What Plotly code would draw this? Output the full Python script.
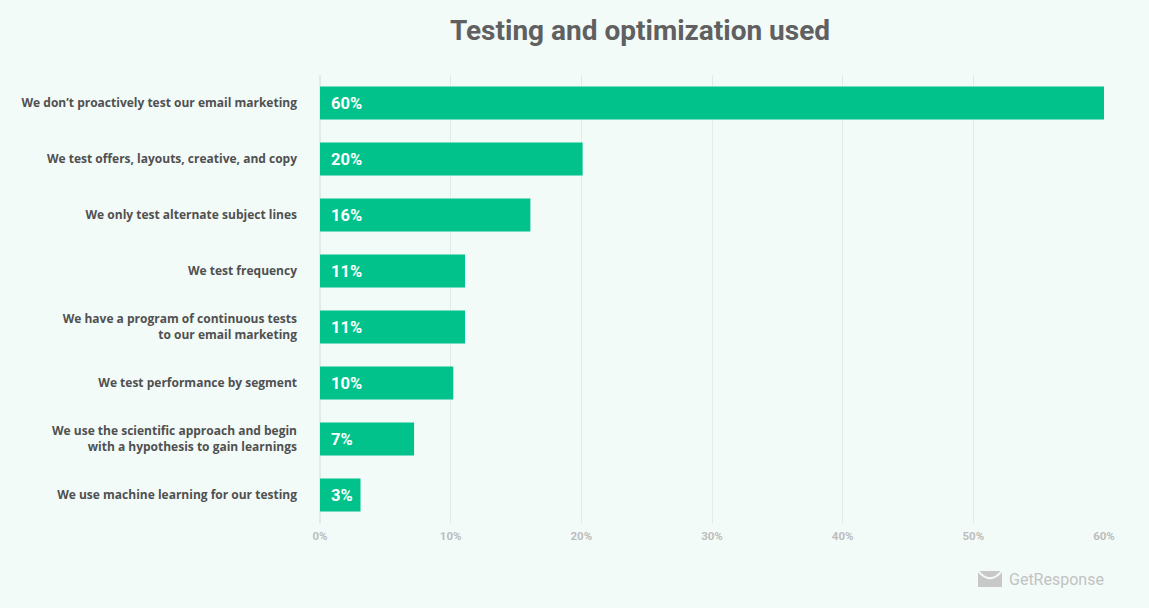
import plotly.graph_objects as go

categories = [
    "We don’t proactively test our email marketing",
    "We test offers, layouts, creative, and copy",
    "We only test alternate subject lines",
    "We test frequency",
    "We have a program of continuous tests<br>to our email marketing",
    "We test performance by segment",
    "We use the scientific approach and begin<br>with a hypothesis to gain learnings",
    "We use machine learning for our testing",
]
values = [60.0, 20.1, 16.1, 11.1, 11.1, 10.2, 7.2, 3.1]
value_labels = ["60%", "20%", "16%", "11%", "11%", "10%", "7%", "3%"]
tick_vals = [0, 10, 20, 30, 40, 50, 60]
tick_text = ["0%", "10%", "20%", "30%", "40%", "50%", "60%"]

BG = "#f2fbf8"
GREEN = "#00c28a"

fig = go.Figure()
fig.add_trace(go.Bar(
    x=values, y=categories, orientation="h",
    marker=dict(color=GREEN, line=dict(width=0)),
    width=0.59, hoverinfo="skip",
))
for c, lab in zip(categories, value_labels):
    fig.add_annotation(x=0, y=c, text=lab, showarrow=False, xanchor="left",
                       xshift=9, font=dict(family="Roboto", size=16.5, color="white", weight="bold"))

fig.update_layout(
    width=1149, height=608,
    paper_bgcolor=BG, plot_bgcolor=BG,
    margin=dict(l=320, r=45, t=75, b=85),
    showlegend=False,
    bargap=0.41,
    title=dict(text="Testing and optimization used", x=0.557, xanchor="center",
               y=0.95, yanchor="middle",
               font=dict(family="Roboto", size=28, color="#606060", weight="bold")),
    xaxis=dict(range=[0, 60.0], tickvals=tick_vals, ticktext=tick_text,
               showgrid=True, gridcolor="#e2ebe7", gridwidth=1,
               zeroline=True, zerolinecolor="#e2ebe7", zerolinewidth=2,
               showline=False, ticks="", fixedrange=True, ticklabelstandoff=4,
               tickfont=dict(family="Roboto", size=11.5, color="#bdbdbd", weight="bold")),
    yaxis=dict(autorange="reversed", showgrid=False, zeroline=False, ticks="",
               ticklabelstandoff=22, fixedrange=True,
               tickfont=dict(family="Open Sans", size=12, color="#505050", weight="bold")),
)

# GetResponse logo (paper coords relative to plot area: x=(px-320)/784, y=(523-py)/448)
fig.add_shape(type="path", xref="paper", yref="paper",
              path="M 0.8393 -0.1071 L 0.8699 -0.1071 L 0.8699 -0.1429 L 0.8393 -0.1429 Z",
              fillcolor="#c8c8c8", line=dict(width=0))
fig.add_shape(type="path", xref="paper", yref="paper",
              path="M 0.8393 -0.1071 Q 0.8546 -0.1400 0.8699 -0.1071",
              fillcolor="rgba(0,0,0,0)", line=dict(width=2, color=BG))
fig.add_annotation(xref="paper", yref="paper", x=0.8760, y=-0.1250, text="GetResponse",
                   showarrow=False, xanchor="left", yanchor="middle",
                   font=dict(family="Roboto", size=16, color="#c2c2c2"))

fig.write_html("out.html", config={"displayModeBar": False},
               post_script="document.body.style.margin='0';document.body.style.background='#f2fbf8';")
